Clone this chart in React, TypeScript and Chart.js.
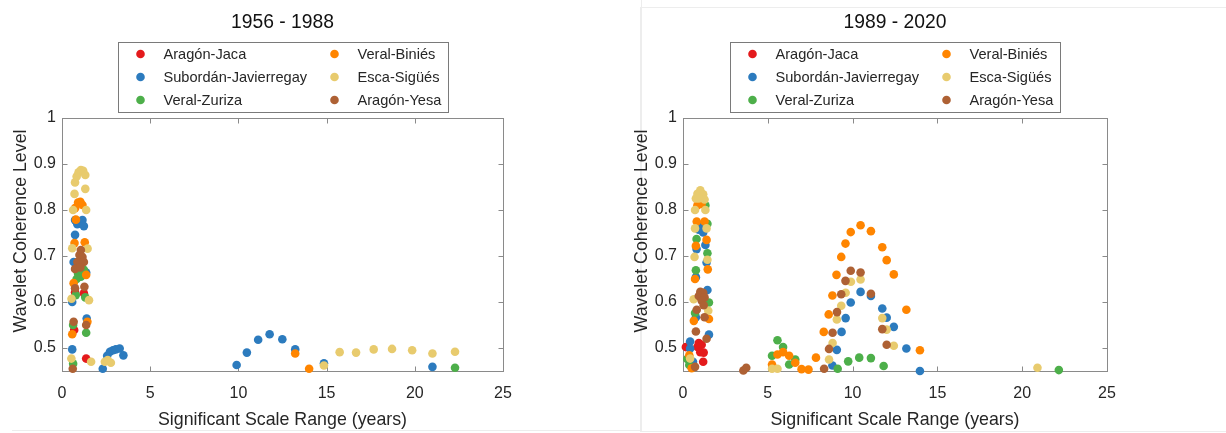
import React, { useEffect, useRef } from "react";
import { Chart, registerables } from "chart.js";

Chart.register(...registerables);

// Series shared by both periods
const seriesNames = [
  "Aragón-Jaca",
  "Subordán-Javierregay",
  "Veral-Zuriza",
  "Veral-Biniés",
  "Esca-Sigüés",
  "Aragón-Yesa",
];
const seriesColors = ["#E41A1C", "#2C7BBE", "#4DAF4A", "#FF8500", "#E8CB6E", "#AE6134"];

const periodTitles = ["1956 - 1988", "1989 - 2020"];
const xTickValues = [0, 5, 10, 15, 20, 25];
const xTickLabels = ["0", "5", "10", "15", "20", "25"];
const yTickValues = [0.5, 0.6, 0.7, 0.8, 0.9, 1];
const yTickLabels = ["0.5", "0.6", "0.7", "0.8", "0.9", "1"];
const xTitle = "Significant Scale Range (years)";
const yTitle = "Wavelet Coherence Level";

// ---- 1956 - 1988 ----
const jacaX1 = [0.74, 1.24, 0.69, 1.37];
const jacaY1 = [0.621, 0.619, 0.539, 0.477];

const subordanX1 = [0.74, 1.16, 0.87, 1.24, 0.74, 0.66, 1.37, 0.58, 1.4, 0.58, 2.31, 2.56, 2.72, 2.89, 3.05, 3.27, 3.48, 9.9, 10.48, 11.12, 11.77, 12.49, 13.22, 14.85, 21.0];
const subordanY1 = [0.778, 0.778, 0.769, 0.765, 0.746, 0.687, 0.664, 0.6, 0.564, 0.497, 0.455, 0.483, 0.492, 0.495, 0.497, 0.499, 0.484, 0.463, 0.49, 0.518, 0.53, 0.519, 0.497, 0.467, 0.459];

const zurizaX1 = [0.91, 1.07, 0.83, 1.24, 0.78, 1.32, 0.63, 1.37, 0.63, 22.28];
const zurizaY1 = [0.662, 0.655, 0.65, 0.67, 0.615, 0.61, 0.55, 0.533, 0.466, 0.457];

const biniesX1 = [0.74, 0.91, 1.04, 1.16, 0.79, 0.71, 1.29, 1.37, 0.66, 0.58, 1.44, 13.22, 14.01];
const biniesY1 = [0.804, 0.816, 0.818, 0.811, 0.779, 0.728, 0.73, 0.659, 0.641, 0.53, 0.557, 0.488, 0.455];

const escaX1 = [0.74, 0.83, 0.94, 1.07, 1.2, 1.32, 0.71, 1.32, 0.63, 1.37, 0.58, 1.45, 0.54, 1.53, 0.53, 1.65, 2.43, 2.59, 2.77, 14.85, 15.74, 16.67, 17.67, 18.71, 19.85, 21.0, 22.28];
const escaY1 = [0.86, 0.873, 0.882, 0.887, 0.885, 0.876, 0.835, 0.846, 0.8, 0.8, 0.717, 0.716, 0.607, 0.604, 0.477, 0.47, 0.47, 0.474, 0.468, 0.462, 0.491, 0.49, 0.497, 0.498, 0.495, 0.488, 0.492];

const yesaX1 = [1.07, 0.99, 1.16, 0.87, 1.24, 0.74, 1.04, 0.74, 1.27, 0.66, 1.37, 0.61];
const yesaY1 = [0.713, 0.702, 0.698, 0.687, 0.687, 0.672, 0.675, 0.63, 0.633, 0.557, 0.55, 0.455];

// ---- 1989 - 2020 ----
const jacaX2 = [0.93, 1.1, 0.85, 1.02, 1.22, 1.19, 0.17];
const jacaY2 = [0.511, 0.507, 0.502, 0.491, 0.49, 0.47, 0.502];

const subordanX2 = [0.93, 1.19, 1.0, 0.8, 1.32, 1.39, 0.76, 1.44, 0.76, 1.53, 0.42, 0.42, 0.59, 8.81, 9.07, 9.35, 9.59, 9.89, 10.47, 11.08, 11.75, 12.01, 12.43, 13.17, 13.97];
const subordanY2 = [0.757, 0.751, 0.765, 0.715, 0.724, 0.686, 0.654, 0.626, 0.567, 0.529, 0.514, 0.499, 0.47, 0.462, 0.496, 0.535, 0.565, 0.599, 0.622, 0.613, 0.586, 0.566, 0.546, 0.499, 0.45];

const zurizaX2 = [1.32, 1.44, 0.8, 1.44, 0.76, 1.53, 0.71, 0.25, 0.37, 5.57, 5.9, 5.25, 6.26, 6.62, 9.12, 9.74, 10.39, 11.08, 11.83, 22.16];
const zurizaY2 = [0.81, 0.77, 0.737, 0.706, 0.669, 0.599, 0.576, 0.476, 0.463, 0.517, 0.502, 0.483, 0.464, 0.475, 0.455, 0.471, 0.479, 0.478, 0.461, 0.452];

const biniesX2 = [0.85, 1.1, 0.81, 1.27, 1.39, 0.76, 0.71, 1.46, 0.64, 1.53, 0.37, 0.51, 5.25, 5.57, 5.9, 6.26, 6.62, 6.99, 7.4, 7.84, 8.3, 8.59, 8.81, 9.05, 9.33, 9.58, 9.89, 10.47, 11.08, 11.75, 12.01, 12.43, 13.17, 13.97];
const biniesY2 = [0.81, 0.813, 0.775, 0.775, 0.735, 0.722, 0.65, 0.671, 0.559, 0.563, 0.484, 0.456, 0.464, 0.486, 0.491, 0.483, 0.468, 0.454, 0.453, 0.479, 0.535, 0.573, 0.614, 0.659, 0.698, 0.727, 0.752, 0.767, 0.754, 0.719, 0.691, 0.66, 0.583, 0.495];

const escaX2 = [1.02, 0.85, 1.19, 0.76, 1.27, 0.93, 0.71, 1.32, 0.71, 1.39, 0.68, 1.44, 0.63, 1.49, 0.42, 5.25, 5.57, 8.61, 8.82, 9.07, 9.33, 9.59, 9.9, 10.47, 11.75, 12.01, 12.43, 20.9];
const escaY2 = [0.843, 0.835, 0.834, 0.825, 0.823, 0.825, 0.8, 0.8, 0.76, 0.76, 0.698, 0.692, 0.606, 0.581, 0.477, 0.455, 0.455, 0.475, 0.511, 0.562, 0.592, 0.62, 0.644, 0.649, 0.565, 0.54, 0.505, 0.457];

const yesaX2 = [1.02, 1.19, 0.93, 1.27, 1.1, 1.22, 0.81, 1.27, 0.76, 1.39, 0.71, 3.56, 3.73, 8.32, 8.61, 8.82, 9.08, 9.33, 9.58, 9.89, 10.47, 11.08, 11.75, 12.01];
const yesaY2 = [0.622, 0.62, 0.613, 0.61, 0.603, 0.593, 0.583, 0.567, 0.536, 0.52, 0.459, 0.451, 0.457, 0.455, 0.498, 0.533, 0.578, 0.617, 0.646, 0.668, 0.664, 0.618, 0.541, 0.507];

const period1X = [jacaX1, subordanX1, zurizaX1, biniesX1, escaX1, yesaX1];
const period1Y = [jacaY1, subordanY1, zurizaY1, biniesY1, escaY1, yesaY1];
const period2X = [jacaX2, subordanX2, zurizaX2, biniesX2, escaX2, yesaX2];
const period2Y = [jacaY2, subordanY2, zurizaY2, biniesY2, escaY2, yesaY2];

const FONT = '"Liberation Sans", Arial, Helvetica, sans-serif';
const TEXT = "#262626";
const AXIS = "#8a8a8a";
const DOT_R = 4.3;

// Box, inward ticks, title, axis titles and the two-column legend
const framePlugin = {
  id: "frame",
  beforeDatasetsDraw(chart: any) {
    const { ctx, chartArea: a, scales } = chart;
    ctx.save();
    ctx.strokeStyle = AXIS;
    ctx.lineWidth = 1;
    const l = Math.round(a.left) + 0.5;
    const r = Math.round(a.right) + 0.5;
    const t = Math.round(a.top) + 0.5;
    const b = Math.round(a.bottom) + 0.5;
    ctx.strokeRect(l, t, r - l, b - t);
    const tick = 5;
    ctx.beginPath();
    xTickValues.forEach((v) => {
      const px = Math.round(scales.x.getPixelForValue(v)) + 0.5;
      ctx.moveTo(px, b);
      ctx.lineTo(px, b - tick);
      ctx.moveTo(px, t);
      ctx.lineTo(px, t + tick);
    });
    yTickValues.forEach((v) => {
      const py = Math.round(scales.y.getPixelForValue(v)) + 0.5;
      ctx.moveTo(l, py);
      ctx.lineTo(l + tick, py);
      ctx.moveTo(r, py);
      ctx.lineTo(r - tick, py);
    });
    ctx.stroke();
    ctx.restore();
  },
  afterDraw(chart: any, _args: any, opts: any) {
    const { ctx, chartArea: a } = chart;
    const cx = (a.left + a.right) / 2;
    ctx.save();
    // title
    ctx.fillStyle = "#111111";
    ctx.font = `19.3px ${FONT}`;
    ctx.textAlign = "center";
    ctx.textBaseline = "middle";
    ctx.fillText(opts.title, cx, 23);
    // x title
    ctx.fillStyle = TEXT;
    ctx.font = `17.8px ${FONT}`;
    ctx.fillText(xTitle, cx, 420);
    // y title
    ctx.save();
    ctx.translate(a.left - 41, 231);
    ctx.rotate(-Math.PI / 2);
    ctx.fillText(yTitle, 0, 0);
    ctx.restore();
    // legend
    const lw = 330;
    const lh = 70;
    const lx = Math.round(cx - lw / 2) + 0.5;
    const ly = 42.5;
    ctx.fillStyle = "#ffffff";
    ctx.fillRect(lx, ly, lw, lh);
    ctx.strokeStyle = "#7a7a7a";
    ctx.lineWidth = 1;
    ctx.strokeRect(lx, ly, lw, lh);
    ctx.font = `14.6px ${FONT}`;
    ctx.textAlign = "left";
    ctx.textBaseline = "middle";
    seriesNames.forEach((name, i) => {
      const col = Math.floor(i / 3);
      const row = i % 3;
      const mx = lx + 22 + col * 194;
      const my = ly + 11.5 + row * 23;
      ctx.fillStyle = seriesColors[i];
      ctx.beginPath();
      ctx.arc(mx, my, DOT_R, 0, Math.PI * 2);
      ctx.fill();
      ctx.fillStyle = TEXT;
      ctx.fillText(name, mx + 23, my + 0.5);
    });
    ctx.restore();
  },
};

function buildChart(
  canvas: HTMLCanvasElement,
  title: string,
  xs: number[][],
  ys: number[][],
  padLeft: number,
  padRight: number
) {
  const datasets = seriesNames.map((name, i) => ({
    label: name,
    data: xs[i].map((x, k) => ({ x, y: ys[i][k] })),
    backgroundColor: seriesColors[i],
    borderColor: seriesColors[i],
    borderWidth: 0,
    pointRadius: DOT_R,
    pointHoverRadius: DOT_R,
    clip: false as any,
    // later series sit on top
    order: seriesNames.length - 1 - i,
  }));
  return new Chart(canvas, {
    type: "scatter",
    data: { datasets },
    plugins: [framePlugin],
    options: {
      responsive: false,
      animation: false,
      events: [],
      layout: { padding: { left: padLeft, right: padRight, top: 118, bottom: 32 } },
      plugins: {
        legend: { display: false },
        tooltip: { enabled: false },
        title: { display: false },
        frame: { title },
      } as any,
      scales: {
        x: {
          type: "linear",
          min: 0,
          max: 25,
          afterBuildTicks: (s: any) => {
            s.ticks = xTickValues.map((v) => ({ value: v }));
          },
          afterFit: (s: any) => {
            s.height = 30;
          },
          ticks: {
            autoSkip: false,
            maxRotation: 0,
            padding: 13,
            color: TEXT,
            font: { family: FONT, size: 16 },
            callback: (_v: any, i: number) => xTickLabels[i],
          },
          grid: { display: false, drawTicks: false },
          border: { display: false },
        },
        y: {
          type: "linear",
          min: 0.45,
          max: 1,
          afterBuildTicks: (s: any) => {
            s.ticks = yTickValues.map((v) => ({ value: v }));
          },
          afterFit: (s: any) => {
            s.width = 40;
          },
          ticks: {
            autoSkip: false,
            padding: 6,
            color: TEXT,
            font: { family: FONT, size: 16 },
            callback: (_v: any, i: number) => yTickLabels[i],
          },
          grid: { display: false, drawTicks: false },
          border: { display: false },
        },
      },
    } as any,
  });
}

export default function App() {
  const leftRef = useRef<HTMLCanvasElement>(null);
  const rightRef = useRef<HTMLCanvasElement>(null);

  useEffect(() => {
    const c1 = buildChart(leftRef.current!, periodTitles[0], period1X, period1Y, 22, 110);
    const c2 = buildChart(rightRef.current!, periodTitles[1], period2X, period2Y, 30, 119);
    return () => {
      c1.destroy();
      c2.destroy();
    };
  }, []);

  return (
    <div
      style={{
        position: "fixed",
        left: 0,
        top: 0,
        width: 1226,
        height: 433,
        background: "#ffffff",
        overflow: "hidden",
      }}
    >
      <div
        style={{
          position: "absolute",
          left: 12,
          top: -2,
          width: 629,
          height: 432,
          borderRight: "1px solid #ededed",
          borderBottom: "1px solid #ededed",
        }}
      />
      <div
        style={{
          position: "absolute",
          left: 640,
          top: 7,
          width: 600,
          height: 423,
          border: "1px solid #ededed",
        }}
      />
      <canvas
        ref={leftRef}
        width={613}
        height={433}
        style={{ position: "absolute", left: 0, top: 0, display: "block" }}
      />
      <canvas
        ref={rightRef}
        width={613}
        height={433}
        style={{ position: "absolute", left: 613, top: 0, display: "block" }}
      />
    </div>
  );
}
